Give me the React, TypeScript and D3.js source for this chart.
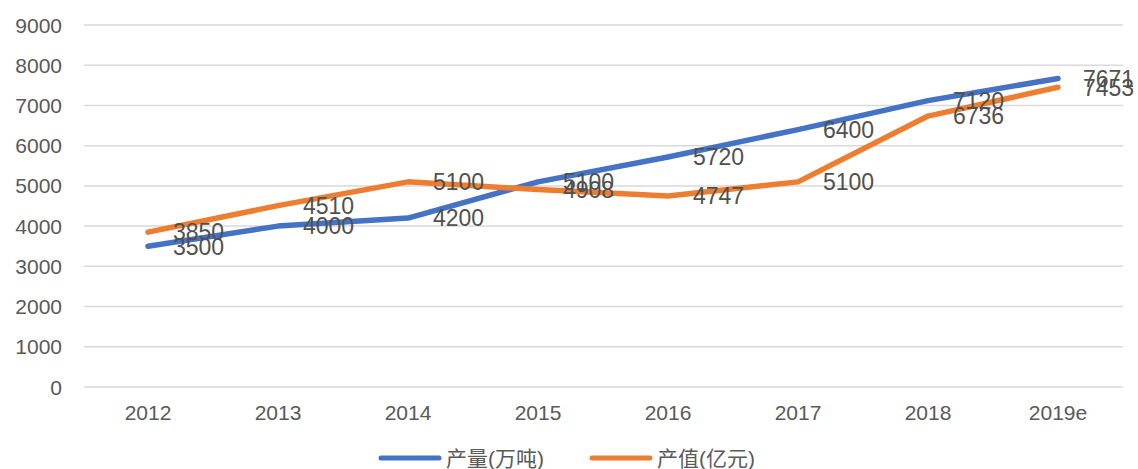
import * as d3 from 'd3';
import { useEffect, useRef } from 'react';

const years = ['2012', '2013', '2014', '2015', '2016', '2017', '2018', '2019e'];
const output = [3500, 4000, 4200, 5100, 5720, 6400, 7120, 7671];
const value = [3850, 4510, 5100, 4908, 4747, 5100, 6736, 7453];
const yTicks = [0, 1000, 2000, 3000, 4000, 5000, 6000, 7000, 8000, 9000];
const seriesNames = ['产量(万吨)', '产值(亿元)'];

export default function App() {
  const ref = useRef<SVGSVGElement | null>(null);

  useEffect(() => {
    if (!ref.current) return;
    const width = 1138;
    const height = 469;
    const font = '"Liberation Sans", Arial, "Noto Sans CJK SC", sans-serif';
    const textColor = '#595959';

    const svg = d3.select(ref.current);
    svg.selectAll('*').remove();
    svg.attr('width', width).attr('height', height).style('display', 'block');

    const x = d3.scaleBand().domain(years).range([83, 1123]);
    const y = d3.scaleLinear().domain([0, 9000]).range([387, 25]);
    const cx = (d: string) => (x(d) ?? 0) + x.bandwidth() / 2;

    // gridlines
    svg
      .append('g')
      .selectAll('line')
      .data(yTicks)
      .join('line')
      .attr('x1', 84)
      .attr('x2', 1123)
      .attr('y1', (d) => y(d))
      .attr('y2', (d) => y(d))
      .attr('stroke', '#d9d9d9')
      .attr('stroke-width', 1.5);

    // y labels
    svg
      .append('g')
      .selectAll('text')
      .data(yTicks)
      .join('text')
      .attr('x', 62)
      .attr('y', (d) => y(d))
      .attr('dy', '0.36em')
      .attr('text-anchor', 'end')
      .attr('font-family', font)
      .attr('font-size', 21)
      .attr('fill', textColor)
      .text((d) => d);

    // x labels
    svg
      .append('g')
      .selectAll('text')
      .data(years)
      .join('text')
      .attr('x', (d) => cx(d))
      .attr('y', 412)
      .attr('dy', '0.36em')
      .attr('text-anchor', 'middle')
      .attr('font-family', font)
      .attr('font-size', 21)
      .attr('fill', textColor)
      .text((d) => d);

    const series = [
      { name: seriesNames[0], data: output, color: '#4472C4' },
      { name: seriesNames[1], data: value, color: '#ED7D31' },
    ];

    const line = d3
      .line<number>()
      .x((_, i) => cx(years[i]))
      .y((d) => y(d));

    series.forEach((s) => {
      svg
        .append('path')
        .datum(s.data)
        .attr('d', line)
        .attr('fill', 'none')
        .attr('stroke', s.color)
        .attr('stroke-width', 5.5)
        .attr('stroke-linecap', 'round')
        .attr('stroke-linejoin', 'round');
    });

    // data labels
    series.forEach((s) => {
      svg
        .append('g')
        .selectAll('text')
        .data(s.data)
        .join('text')
        .attr('x', (_, i) => cx(years[i]) + 25)
        .attr('y', (d) => y(d))
        .attr('dy', '0.36em')
        .attr('font-family', font)
        .attr('font-size', 23)
        .attr('fill', '#505050')
        .text((d) => d);
    });

    // legend
    const legend = [
      { x: 381, color: series[0].color, name: series[0].name },
      { x: 592, color: series[1].color, name: series[1].name },
    ];
    const lg = svg.append('g');
    legend.forEach((l) => {
      lg.append('line')
        .attr('x1', l.x)
        .attr('x2', l.x + 58)
        .attr('y1', 458)
        .attr('y2', 458)
        .attr('stroke', l.color)
        .attr('stroke-width', 5)
        .attr('stroke-linecap', 'round');
      lg.append('text')
        .attr('x', l.x + 65)
        .attr('y', 458)
        .attr('dy', '0.36em')
        .attr('font-family', font)
        .attr('font-size', 21)
        .attr('fill', textColor)
        .text(l.name);
    });
  }, []);

  return (
    <div style={{ position: 'absolute', left: 0, top: 0 }}>
      <svg ref={ref} />
    </div>
  );
}
